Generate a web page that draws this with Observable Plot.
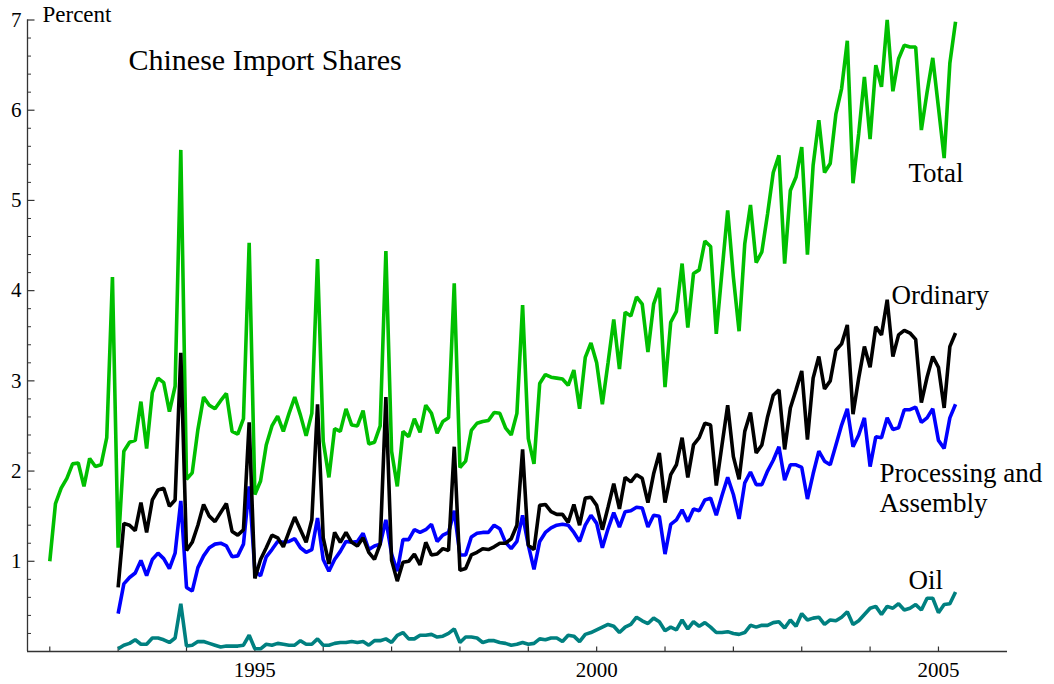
<!DOCTYPE html>
<html><head><meta charset="utf-8">
<script src="https://cdn.jsdelivr.net/npm/d3@7"></script>
<script src="https://cdn.jsdelivr.net/npm/@observablehq/plot@0.6"></script>
<style>body{margin:0;background:#fff;} #chart svg{display:block;}</style>
</head><body><div id="chart"></div>
<script>
// ---- data (monthly, percent) ----
const totalStart = 1992;   // Jan 1992
const otherStart = 1993;   // Jan 1993
const total = [
 1.00,1.64,1.81,1.92,2.08,2.09,1.83,2.14,2.05,2.07,2.37,4.15,
 1.15,2.22,2.32,2.34,2.77,2.25,2.87,3.03,2.98,2.66,2.94,5.56,
 1.91,1.98,2.46,2.82,2.73,2.69,2.78,2.86,2.44,2.41,2.58,4.53,
 1.74,1.89,2.29,2.50,2.61,2.44,2.64,2.82,2.62,2.39,2.64,4.35,
 2.33,1.93,2.47,2.44,2.69,2.51,2.50,2.67,2.30,2.32,2.50,4.44,
 2.22,1.83,2.44,2.38,2.58,2.43,2.73,2.64,2.42,2.55,2.59,4.08,
 2.04,2.11,2.45,2.53,2.55,2.56,2.65,2.64,2.48,2.40,2.64,3.84,
 2.36,2.08,2.97,3.07,3.04,3.03,3.02,2.95,3.12,2.69,3.26,3.42,
 3.20,2.74,3.20,3.68,3.13,3.76,3.72,3.93,3.85,3.32,3.85,4.03,
 2.93,3.65,3.77,4.30,3.59,4.19,4.23,4.55,4.49,3.52,4.21,4.89,
 4.15,3.55,4.52,4.95,4.31,4.43,4.85,5.31,5.50,4.30,5.11,5.26,
 5.59,4.40,5.39,5.89,5.31,5.41,5.96,6.24,6.77,5.19,5.74,6.37,
 5.68,6.50,6.26,7.00,6.21,6.57,6.72,6.70,6.70,5.78,6.20,6.58,
 6.03,5.47,6.52,6.98
];
const ordinary = [
 0.71,1.42,1.40,1.34,1.65,1.32,1.68,1.79,1.81,1.61,1.68,3.31,
 1.12,1.21,1.40,1.63,1.50,1.44,1.54,1.64,1.33,1.29,1.35,2.54,
 0.81,1.02,1.15,1.29,1.26,1.16,1.33,1.49,1.35,1.21,1.46,2.74,
 1.26,0.97,1.32,1.21,1.32,1.21,1.17,1.26,1.10,1.02,1.19,2.82,
 1.01,0.78,0.99,1.00,1.08,0.96,1.21,1.07,1.08,1.14,1.12,2.27,
 0.90,0.92,1.07,1.10,1.14,1.13,1.16,1.20,1.20,1.25,1.40,2.24,
 1.18,1.13,1.62,1.63,1.55,1.52,1.52,1.43,1.63,1.40,1.70,1.71,
 1.62,1.35,1.60,1.86,1.58,1.93,1.88,1.96,1.92,1.65,1.97,2.20,
 1.65,1.96,2.07,2.37,1.93,2.29,2.37,2.53,2.51,1.84,2.29,2.73,
 2.16,1.91,2.44,2.65,2.20,2.29,2.60,2.84,2.90,2.24,2.70,2.90,
 3.11,2.35,3.03,3.27,2.91,3.00,3.34,3.41,3.62,2.63,3.03,3.38,
 3.15,3.60,3.51,3.90,3.27,3.51,3.56,3.53,3.46,2.76,3.04,3.27,
 3.15,2.70,3.38,3.53
];
const processing = [
 0.42,0.75,0.82,0.87,1.01,0.84,1.02,1.09,1.03,0.92,1.09,1.67,
 0.71,0.67,0.93,1.06,1.15,1.19,1.20,1.17,1.05,1.06,1.19,1.83,
 0.89,0.84,1.05,1.13,1.22,1.21,1.22,1.25,1.15,1.10,1.13,1.48,
 1.02,0.89,1.02,1.11,1.22,1.21,1.22,1.31,1.13,1.17,1.19,1.46,
 1.08,0.89,1.24,1.24,1.35,1.32,1.35,1.41,1.22,1.29,1.32,1.56,
 1.07,1.07,1.27,1.31,1.32,1.32,1.40,1.36,1.21,1.14,1.22,1.51,
 1.18,0.91,1.22,1.32,1.37,1.40,1.41,1.40,1.32,1.22,1.40,1.51,
 1.42,1.15,1.36,1.54,1.38,1.55,1.56,1.60,1.59,1.38,1.51,1.50,
 1.08,1.41,1.46,1.57,1.44,1.58,1.56,1.68,1.70,1.51,1.73,1.93,
 1.74,1.47,1.87,1.99,1.85,1.85,2.00,2.12,2.27,1.90,2.07,2.07,
 2.04,1.69,1.97,2.22,2.11,2.07,2.29,2.51,2.69,2.27,2.40,2.59,
 2.05,2.38,2.37,2.59,2.46,2.48,2.68,2.68,2.71,2.54,2.59,2.69,
 2.34,2.25,2.59,2.74
];
const oil = [
 0.03,0.07,0.09,0.13,0.08,0.08,0.15,0.15,0.13,0.10,0.15,0.53,
 0.06,0.07,0.11,0.11,0.09,0.07,0.05,0.06,0.06,0.06,0.07,0.18,
 0.03,0.03,0.08,0.07,0.09,0.08,0.07,0.07,0.12,0.08,0.08,0.14,
 0.07,0.07,0.09,0.10,0.10,0.11,0.10,0.11,0.07,0.12,0.12,0.14,
 0.10,0.18,0.21,0.14,0.14,0.18,0.18,0.19,0.16,0.17,0.20,0.25,
 0.10,0.16,0.16,0.15,0.10,0.12,0.12,0.10,0.09,0.07,0.08,0.10,
 0.08,0.09,0.14,0.13,0.15,0.15,0.11,0.18,0.17,0.11,0.19,0.21,
 0.24,0.27,0.30,0.28,0.21,0.27,0.30,0.38,0.34,0.31,0.37,0.33,
 0.23,0.27,0.24,0.35,0.25,0.33,0.28,0.32,0.27,0.21,0.21,0.22,
 0.20,0.19,0.21,0.29,0.27,0.29,0.29,0.32,0.33,0.26,0.35,0.28,
 0.42,0.35,0.37,0.38,0.30,0.35,0.34,0.38,0.44,0.30,0.34,0.41,
 0.48,0.50,0.41,0.50,0.48,0.53,0.46,0.48,0.52,0.46,0.59,0.59,
 0.43,0.52,0.53,0.66
];
const xTicks = [1992,1993,1994,1995,1996,1997,1998,1999,2000,2001,2002,2003,2004,2005];
const xLabels = [1995, 2000, 2005];
const yMajor = [1,2,3,4,5,6,7];
const yMinor = d3.range(0, 35).map(k => k / 5).filter(v => v > 0 && Math.abs(v - Math.round(v)) > 1e-6);

const series = (start, vals) => vals.map((v, i) => ({t: start + i / 12, v}));

// ---- layout ----
const W = 1054, H = 684;
const mL = 27, mR = 47, mT = 19.5, mB = 33;
const xDom = [1991.674, 2006.01], yDom = [0, 7];
const pxPerYear = (W - mL - mR) / (xDom[1] - xDom[0]);
const pxPerUnit = (H - mT - mB) / (yDom[1] - yDom[0]);
const serif = "Liberation Serif, Times New Roman, serif";
const axisColor = "#333";

const lineOpts = {x: "t", y: "v", strokeWidth: 3.6, strokeLinejoin: "miter", strokeLinecap: "butt"};
const label = (txt, dx, dy, size, extra = {}) =>
  Plot.text([txt], {text: d => d, frameAnchor: "top-left", dx, dy, textAnchor: "start", lineAnchor: "bottom",
    fontSize: size, fontFamily: serif, fill: "black", ...extra});

const chart = Plot.plot({
  width: W, height: H,
  marginLeft: mL, marginRight: mR, marginTop: mT, marginBottom: mB,
  x: {domain: xDom, axis: null},
  y: {domain: yDom, axis: null},
  style: {fontFamily: serif, background: "white"},
  marks: [
    // axes
    Plot.ruleY([0], {stroke: axisColor, strokeWidth: 1.3}),
    Plot.ruleX([xDom[0]], {y1: 0, y2: 7, stroke: axisColor, strokeWidth: 1.3}),
    Plot.ruleX(xTicks, {x: d => d, y1: 0, y2: 4.5 / pxPerUnit, stroke: axisColor, strokeWidth: 1.2}),
    Plot.ruleY(yMajor, {y: d => d, x1: xDom[0], x2: xDom[0] + 7.5 / pxPerYear, stroke: axisColor, strokeWidth: 1.2}),
    Plot.ruleY(yMinor, {y: d => d, x1: xDom[0], x2: xDom[0] + 4 / pxPerYear, stroke: axisColor, strokeWidth: 1}),
    Plot.text(xLabels, {x: d => d, y: 0, dy: 25, text: d => String(d), lineAnchor: "bottom", fontSize: 21, fontFamily: serif, fill: "black"}),
    Plot.text(yMajor, {x: xDom[0], y: d => d, dx: -6, text: d => String(d), textAnchor: "end", lineAnchor: "middle", fontSize: 21, fontFamily: serif, fill: "black"}),
    // series
    Plot.line(series(totalStart, total), {...lineOpts, stroke: "#00bf00"}),
    Plot.line(series(otherStart, processing), {...lineOpts, stroke: "#0000ff"}),
    Plot.line(series(otherStart, ordinary), {...lineOpts, stroke: "#000000"}),
    Plot.line(series(otherStart, oil), {...lineOpts, stroke: "#008080"}),
    // annotations
    label("Percent", 15, 1.5, 23),
    label("Chinese Import Shares", 101, 49.5, 30),
    label("Total", 881, 161.5, 27),
    label("Ordinary", 864, 283.5, 27),
    label("Processing and\nAssembly", 852, 491.5, 27, {lineHeight: 1.08}),
    label("Oil", 881, 568.5, 27)
  ]
});
document.getElementById("chart").appendChild(chart);
</script>
</body></html>
